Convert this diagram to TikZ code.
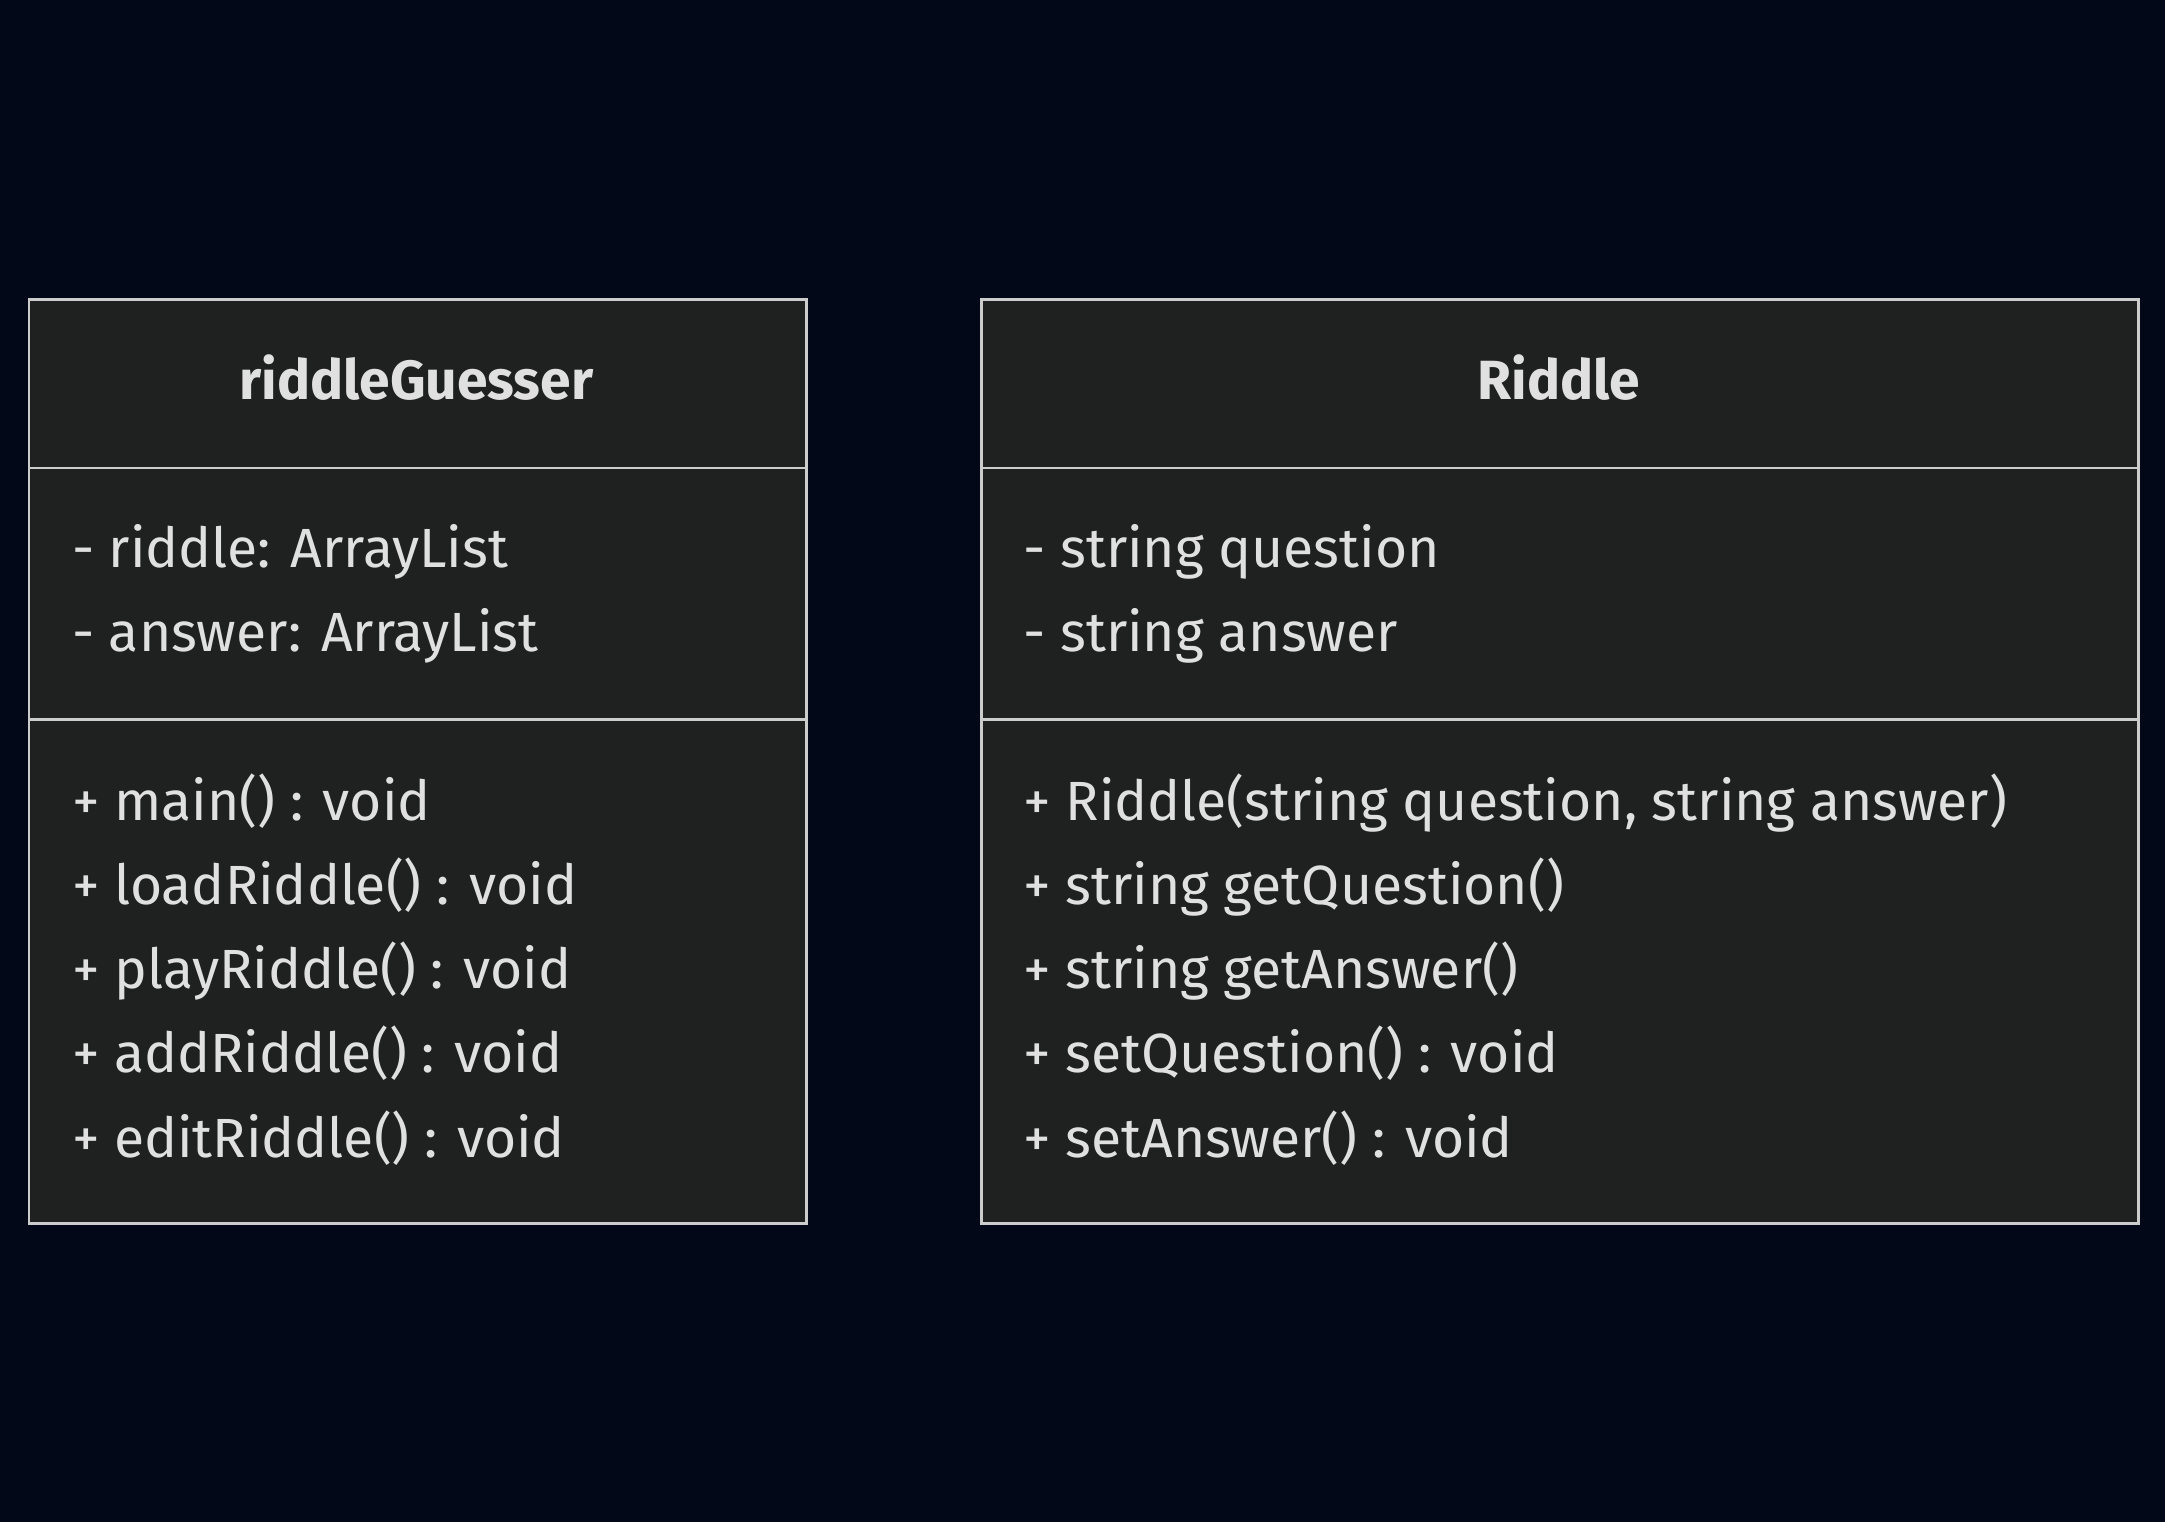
\documentclass[tikz,border=0pt]{standalone}
\usepackage{fontspec}
\setmainfont{Fira Sans}
\usetikzlibrary{positioning}

\definecolor{bgnavy}{HTML}{020817}
\definecolor{boxfill}{HTML}{1F2020}
\definecolor{boxline}{HTML}{CCCCCC}
\definecolor{txtgray}{HTML}{E0E0E0}

\tikzset{
  compart/.style={draw=boxline, fill=boxfill, line width=2pt, anchor=north west, inner sep=0pt},
  member/.style={anchor=base west, inner sep=0pt, text=txtgray, font=\fontsize{40}{48}\selectfont},
  title/.style={anchor=base, inner sep=0pt, text=txtgray, font=\fontsize{40}{48}\selectfont\bfseries}
}

\begin{document}
\begin{tikzpicture}[x=1pt,y=-1pt]

\fill[bgnavy] (0,0) rectangle (1568,1102);
\useasboundingbox (0,0) rectangle (1568,1102);

% riddleGuesser
\node[compart, minimum width=563pt, minimum height=122pt] (gHead) at (20,216) {};
\node[compart, minimum width=563pt, minimum height=182pt] (gAttr) at (20,338) {};
\node[compart, minimum width=563pt, minimum height=365pt] (gOps) at (20,520) {};

\node[title] (gName) at (301.5,289) {riddleGuesser};
\node[member] (gA1) at (52,411) {- riddle: ArrayList};
\node[member] (gA2) at (52,472) {- answer: ArrayList};
\node[member] (gM1) at (52,594) {+ main() : void};
\node[member] (gM2) at (52,655) {+ loadRiddle() : void};
\node[member] (gM3) at (52,716) {+ playRiddle() : void};
\node[member] (gM4) at (52,777) {+ addRiddle() : void};
\node[member] (gM5) at (52,838) {+ editRiddle() : void};

% Riddle
\node[compart, minimum width=838pt, minimum height=122pt] (rHead) at (710,216) {};
\node[compart, minimum width=838pt, minimum height=182pt] (rAttr) at (710,338) {};
\node[compart, minimum width=838pt, minimum height=365pt] (rOps) at (710,520) {};

\node[title] (rName) at (1129,289) {Riddle};
\node[member] (rA1) at (741,411) {- string question};
\node[member] (rA2) at (741,472) {- string answer};
\node[member] (rM1) at (741,594) {+ Riddle(string question, string answer)};
\node[member] (rM2) at (741,655) {+ string getQuestion()};
\node[member] (rM3) at (741,716) {+ string getAnswer()};
\node[member] (rM4) at (741,777) {+ setQuestion() : void};
\node[member] (rM5) at (741,838) {+ setAnswer() : void};

\end{tikzpicture}
\end{document}
